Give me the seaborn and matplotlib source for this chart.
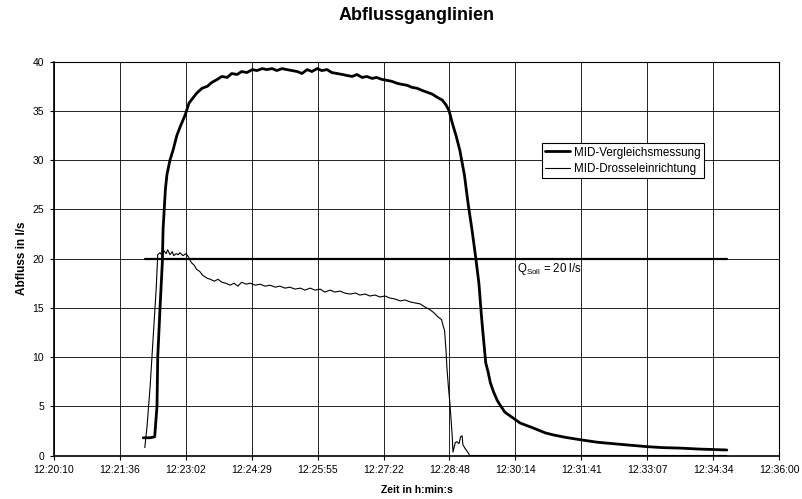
import numpy as np
import pandas as pd
import matplotlib
matplotlib.use("Agg")
import matplotlib.pyplot as plt
import seaborn as sns

# ---------------- data (seconds after 12:20:10) ----------------
t_vergleich = [117, 126, 132, 135, 136, 139, 142, 143, 146, 148, 152, 156, 161, 166, 172, 177,
               182, 187, 194, 201, 207, 214, 220, 227, 233, 240, 246, 253, 260, 266, 273, 279,
               286, 292, 299, 305, 312, 319, 325, 332, 338, 345, 351, 358, 364, 371, 378, 384,
               391, 397, 404, 410, 417, 423, 430, 437, 443, 450, 456, 463, 469, 476, 482, 489,
               496, 502, 509, 514, 518, 522, 527, 532, 538, 543, 548, 553, 557, 560, 562, 566,
               569, 572, 576, 581, 585, 591, 602, 611, 628, 644, 654, 670, 690, 712, 733, 755,
               777, 798, 821, 847, 867, 882]
q_vergleich = [1.8, 1.8, 1.9, 5.0, 10.0, 15.0, 19.6, 23.0, 27.0, 28.5, 30.0, 31.0, 32.5, 33.5, 34.6, 35.8,
               36.3, 36.8, 37.3, 37.5, 37.9, 38.2, 38.5, 38.4, 38.8, 38.7, 39.0, 38.9, 39.2, 39.1, 39.3, 39.2,
               39.3, 39.1, 39.3, 39.2, 39.1, 39.0, 38.8, 39.2, 39.0, 39.3, 39.1, 39.2, 38.9, 38.8, 38.7, 38.6,
               38.5, 38.7, 38.4, 38.5, 38.3, 38.4, 38.2, 38.1, 38.0, 37.8, 37.7, 37.6, 37.4, 37.3, 37.1, 36.9,
               36.7, 36.4, 36.1, 35.6, 35.0, 33.8, 32.5, 31.0, 28.5, 25.5, 22.9, 20.0, 17.5, 14.5, 12.7, 9.4,
               8.5, 7.4, 6.5, 5.6, 5.1, 4.4, 3.8, 3.3, 2.8, 2.3, 2.1, 1.85, 1.6, 1.35, 1.2, 1.05,
               0.9, 0.8, 0.75, 0.65, 0.6, 0.56]

t_drossel = [119, 122, 126, 130, 134, 136, 139, 142, 144, 147, 149, 152, 155, 157, 160, 163,
             165, 169, 173, 176, 180, 184, 187, 191, 195, 201, 205, 210, 215, 220, 225, 231,
             236, 241, 246, 252, 257, 264, 270, 277, 283, 290, 296, 303, 309, 316, 323, 329,
             336, 342, 349, 355, 362, 368, 375, 381, 388, 395, 401, 408, 414, 421, 427, 434,
             440, 447, 454, 460, 467, 473, 480, 486, 493, 498, 503, 508, 510, 512, 514, 515,
             517, 519, 522, 523, 526, 528, 531, 533, 535, 536, 539, 541, 545, 882]
q_drossel = [0.8, 3.0, 7.0, 12.0, 17.0, 20.4, 20.6, 20.3, 20.8, 20.5, 20.9, 20.4, 20.7, 20.3, 20.5, 20.4,
             20.6, 20.3, 20.5, 20.2, 19.6, 19.3, 18.9, 18.7, 18.3, 18.0, 17.9, 17.7, 17.9, 17.6, 17.5, 17.3,
             17.5, 17.2, 17.6, 17.4, 17.5, 17.3, 17.4, 17.2, 17.3, 17.1, 17.2, 17.0, 17.1, 16.9, 17.0, 16.8,
             17.0, 16.8, 16.9, 16.6, 16.8, 16.6, 16.7, 16.5, 16.4, 16.5, 16.3, 16.4, 16.2, 16.3, 16.1, 16.2,
             16.0, 15.9, 15.7, 15.8, 15.6, 15.5, 15.4, 15.1, 14.8, 14.5, 14.1, 13.8, 13.2, 12.7, 10.5, 9.0,
             7.0, 5.3, 2.0, 0.35, 1.3, 1.4, 1.2, 1.9, 2.0, 1.1, 0.7, 0.5, 0.0, 0.0]

t_soll = [119, 882]
q_soll = [20, 20]

tick_labels = ["12:20:10", "12:21:36", "12:23:02", "12:24:29", "12:25:55", "12:27:22",
               "12:28:48", "12:30:14", "12:31:41", "12:33:07", "12:34:34", "12:36:00"]
tick_step = 86.4  # 0.001 day
y_ticks = [0, 5, 10, 15, 20, 25, 30, 35, 40]

# ---------------- style ----------------
sns.set_style("white")
plt.rcParams["font.family"] = ["Liberation Sans", "DejaVu Sans"]
plt.rcParams["mathtext.fontset"] = "custom"
plt.rcParams["mathtext.rm"] = "Liberation Sans"
plt.rcParams["text.color"] = "black"
plt.rcParams["axes.labelcolor"] = "black"

fig = plt.figure(figsize=(8.03, 4.99), dpi=100)
ax = fig.add_axes([54 / 803, 1 - 455.5 / 499, 725 / 803, 393.8 / 499])

df_v = pd.DataFrame({"t": t_vergleich, "q": q_vergleich})
df_d = pd.DataFrame({"t": t_drossel, "q": q_drossel})
df_s = pd.DataFrame({"t": t_soll, "q": q_soll})

sns.lineplot(data=df_s, x="t", y="q", ax=ax, color="black", lw=1.6,
             estimator=None, sort=False, legend=False)
sns.lineplot(data=df_d, x="t", y="q", ax=ax, color="black", lw=0.8,
             estimator=None, sort=False, legend=False)
sns.lineplot(data=df_v, x="t", y="q", ax=ax, color="black", lw=2.0,
             estimator=None, sort=False, legend=False)

lines = ax.get_lines()
h_v, h_d = lines[2], lines[1]

ax.set_xlim(0, tick_step * (len(tick_labels) - 1))
ax.set_ylim(0, 40)
ax.set_xticks([i * tick_step for i in range(len(tick_labels))])
ax.set_xticklabels(tick_labels)
ax.set_yticks(y_ticks)
ax.set_yticklabels([str(v) for v in y_ticks])

ax.grid(True, color="black", lw=0.6)
ax.set_axisbelow(True)
for s in ax.spines.values():
    s.set_visible(True)
    s.set_color("black")
    s.set_linewidth(0.8)
ax.spines["left"].set_linewidth(1.2)
ax.spines["bottom"].set_linewidth(1.2)

ax.tick_params(axis="both", which="major", direction="out", length=3, width=0.8,
               labelsize=7.5, colors="black", labelcolor="black", pad=4, bottom=True, left=True)

ax.set_xlabel("Zeit in h:min:s", fontsize=7.6, fontweight="bold", labelpad=7, color="black")
ax.set_ylabel("Abfluss in l/s", fontsize=8.5, fontweight="bold", labelpad=3, color="black")

fig.text(ax.get_position().x0 + ax.get_position().width / 2, 1 - 16 / 499,
         "Abflussganglinien", ha="center", va="center", fontsize=13, fontweight="bold",
         color="black")

ax.text(607, 18.95, r"Q$_\mathregular{Soll}$ = 20 l/s", fontsize=8.3, ha="left", va="center",
        color="black")

leg = ax.legend([h_v, h_d], ["MID-Vergleichsmessung", "MID-Drosseleinrichtung"],
                loc="upper left", bbox_to_anchor=(0.673, 0.7935), borderaxespad=0,
                fontsize=8.4, frameon=True, fancybox=False, framealpha=1,
                edgecolor="black", handlelength=2.1, handletextpad=0.35,
                borderpad=0.3, labelspacing=0.35)
leg.get_frame().set_linewidth(0.8)
for txt in leg.get_texts():
    txt.set_color("black")

fig.savefig("out.png", dpi=100)
